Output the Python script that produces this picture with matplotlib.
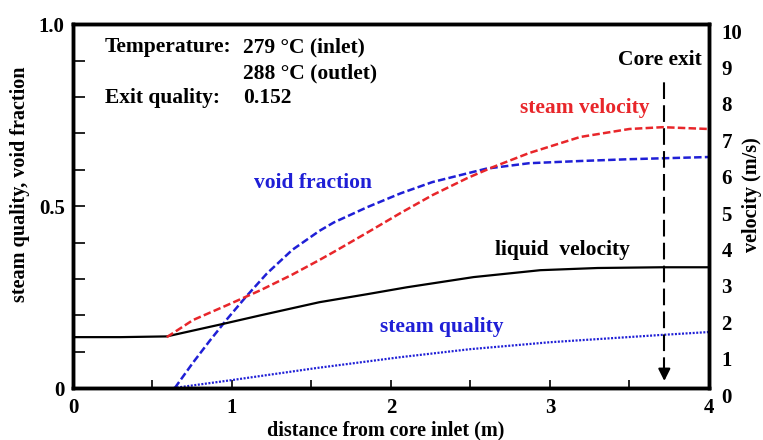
import matplotlib
matplotlib.use("Agg")
import matplotlib.pyplot as plt
import matplotlib.transforms as mtransforms
from matplotlib.ticker import MultipleLocator

plt.rcParams['font.family'] = ['Liberation Serif', 'DejaVu Serif']
plt.rcParams['font.weight'] = 'bold'
plt.rcParams['axes.labelweight'] = 'bold'

# distance from core inlet (m) and values
liq_x = [0.0, 0.3, 0.59, 0.94, 1.18, 1.55, 1.85, 2.1, 2.52, 2.94, 3.3, 3.7, 4.0]
liq_v = [1.40, 1.40, 1.42, 1.76, 2.00, 2.36, 2.58, 2.77, 3.05, 3.24, 3.30, 3.32, 3.32]

stv_x = [0.59, 0.755, 0.97, 1.18, 1.38, 1.55, 1.64, 1.85, 2.06, 2.26, 2.48, 2.64,
         2.87, 3.19, 3.50, 3.71, 4.0]
stv_v = [1.40, 1.87, 2.28, 2.69, 3.12, 3.52, 3.74, 4.27, 4.81, 5.30, 5.77, 6.07,
         6.46, 6.90, 7.12, 7.17, 7.12]

void_x = [0.64, 0.755, 0.86, 0.97, 1.09, 1.22, 1.38, 1.55, 1.64, 1.85, 2.06, 2.26,
          2.48, 2.60, 2.87, 3.19, 3.50, 4.0]
void_a = [0.0, 0.07, 0.13, 0.19, 0.252, 0.315, 0.38, 0.432, 0.455, 0.497, 0.535,
          0.566, 0.59, 0.603, 0.618, 0.624, 0.629, 0.635]

qual_x = [0.63, 1.0, 1.53, 2.06, 2.5, 3.0, 3.7, 4.0]
qual_q = [0.0, 0.022, 0.055, 0.085, 0.107, 0.126, 0.146, 0.154]

core_exit = 3.72

red = '#e8262a'
blue = '#1f1fd6'

fig = plt.figure(figsize=(7.63, 4.40), dpi=100)
ax = fig.add_axes([0.0957, 0.118, 0.8333, 0.827])
ax2 = ax.twinx()

ax.plot(void_x, void_a, color=blue, lw=1.8, ls=(0, (3, 1.3)))
ax.plot(qual_x, qual_q, color=blue, lw=1.6, ls=(0, (0.9, 0.7)))
ax2.plot(liq_x, liq_v, color='black', lw=1.6)
ax2.plot(stv_x, stv_v, color=red, lw=1.8, ls=(0, (3, 1.3)))

# core exit marker
ax.vlines(core_exit, 0.04, 0.85, colors='black', lw=1.5, linestyles=(0, (8, 3)))
ax.annotate('', xy=(core_exit, 0.012), xytext=(core_exit, 0.05),
            arrowprops=dict(arrowstyle='-|>', color='black', lw=1.5, mutation_scale=18))
ax.text(core_exit - 0.03, 0.902, 'Core exit', ha='center', va='center', fontsize=15.5)

ax.set_xlim(0, 4)
ax.set_ylim(0, 1)
ax2.set_ylim(0, 10)

ax.set_xticks([0, 1, 2, 3, 4])
ax.xaxis.set_minor_locator(MultipleLocator(0.5))
ax.set_yticks([0, 0.5, 1.0])
ax.set_yticklabels(['0', '0.5', '1.0'])
ax.yaxis.set_minor_locator(MultipleLocator(0.1))
ax.tick_params(axis='both', which='both', direction='in', labelsize=15, width=1.2)
ax.tick_params(axis='x', which='both', length=6, top=False, pad=7)
ax.tick_params(axis='y', which='both', length=8.5, right=False, pad=6)

ax2.set_yticks(range(0, 11))
ax2.tick_params(axis='y', length=0, labelsize=15, pad=9)
offset = mtransforms.ScaledTranslation(0, -7 / 100, fig.dpi_scale_trans)
for lbl in ax2.get_yticklabels():
    lbl.set_transform(lbl.get_transform() + offset)

for a in (ax, ax2):
    for s in a.spines.values():
        s.set_linewidth(2.5)

ax.set_xlabel('distance from core inlet (m)', fontsize=14.5)
ax.set_ylabel('steam quality, void fraction', fontsize=14.5)
ax2.set_ylabel('velocity (m/s)', fontsize=14.5)
ax.xaxis.set_label_coords(0.492, -0.088)
ax.yaxis.set_label_coords(-0.067, 0.56)
ax2.yaxis.set_label_coords(1.052, 0.533)

# curve labels
ax.text(3.22, 0.77, 'steam velocity', color=red, fontsize=15.5, ha='center', va='center')
ax.text(1.51, 0.563, 'void fraction', color=blue, fontsize=15.5, ha='center', va='center')
ax.text(3.08, 0.379, 'liquid  velocity', color='black', fontsize=15.5, ha='center', va='center')
ax.text(2.32, 0.168, 'steam quality', color=blue, fontsize=15.5, ha='center', va='center')

# operating conditions
ax.text(0.2, 0.937, 'Temperature:', fontsize=15.5, ha='left', va='center')
ax.text(1.07, 0.937, '279 °C (inlet)', fontsize=15.5, ha='left', va='center')
ax.text(1.07, 0.865, '288 °C (outlet)', fontsize=15.5, ha='left', va='center')
ax.text(0.2, 0.797, 'Exit quality:', fontsize=15.5, ha='left', va='center')
ax.text(1.07, 0.797, '0.152', fontsize=15.5, ha='left', va='center')

fig.savefig('out.png', dpi=100)
